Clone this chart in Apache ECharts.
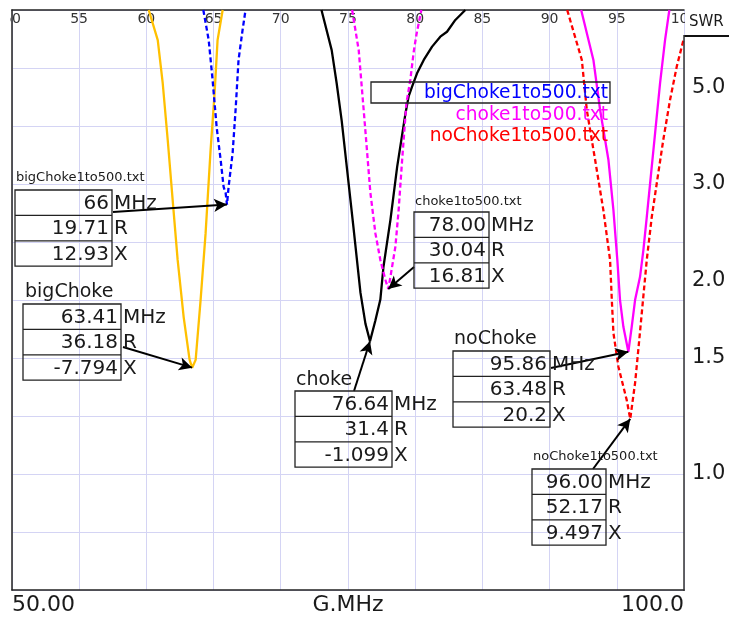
<!DOCTYPE html>
<html><head><meta charset="utf-8">
<script src="https://cdn.jsdelivr.net/npm/echarts@6/dist/echarts.min.js"></script>
<style>html,body{margin:0;padding:0;background:#fff}#c{width:729px;height:619px}</style>
</head><body><div id="c"></div>
<script>
// ---------- data ----------
const bottomLabelValues = [50, 75, 100];
const bottomLabels = ['50.00', 'G.MHz', '100.0'];
const swrTickValues = [5.0, 3.0, 2.0, 1.5, 1.0];
const swrTickLabels = ['5.0', '3.0', '2.0', '1.5', '1.0'];

const bigChokeMHz = [60.18, 60.85, 61.22, 61.59, 61.96, 62.33, 62.78, 63.22, 63.41, 63.67, 64.04, 64.41, 64.78, 65.08, 65.30, 65.68];
const bigChokeSWR = [9.0, 6.94, 5.13, 3.72, 2.79, 2.17, 1.74, 1.49, 1.449, 1.49, 1.86, 2.42, 3.53, 4.83, 6.94, 9.0];

const bigChoke500MHz = [64.24, 64.64, 64.93, 65.23, 65.53, 65.75, 65.90, 66.00, 66.12, 66.42, 66.64, 66.86, 67.16, 67.38];
const bigChoke500SWR = [9.0, 6.94, 5.24, 3.98, 3.36, 2.96, 2.88, 2.735, 2.96, 3.48, 4.37, 5.99, 7.53, 9.0];

const chokeMHz = [73.03, 73.79, 74.16, 74.54, 74.94, 75.41, 75.93, 76.30, 76.64, 77.04, 77.41, 77.64, 78.16, 78.66, 79.27, 79.52, 79.77, 80.14, 80.64, 81.26, 81.87, 82.37, 82.99, 83.73];
const chokeSWR = [9.0, 6.43, 5.13, 4.10, 3.20, 2.48, 1.91, 1.70, 1.594, 1.72, 1.86, 2.11, 2.56, 3.25, 4.27, 4.74, 5.02, 5.47, 5.99, 6.60, 7.13, 7.42, 8.21, 9.0];

const choke500MHz = [75.31, 75.80, 76.17, 76.37, 76.67, 77.04, 77.41, 77.79, 78.00, 78.16, 78.53, 78.77, 79.03, 79.35, 79.64, 79.89, 80.09, 80.46];
const choke500SWR = [9.0, 6.43, 4.37, 3.66, 2.88, 2.42, 2.17, 2.005, 1.937, 2.03, 2.29, 2.67, 3.36, 4.55, 5.24, 6.34, 7.23, 9.0];

const noChokeMHz = [92.35, 93.26, 93.76, 94.38, 94.75, 95.04, 95.24, 95.49, 95.86, 96.11, 96.36, 96.73, 96.98, 97.23, 97.60, 97.85, 98.22, 98.59, 98.91];
const noChokeSWR = [9.0, 5.99, 4.37, 3.36, 2.67, 2.17, 1.857, 1.68, 1.534, 1.68, 1.857, 2.03, 2.26, 2.59, 3.25, 3.85, 5.13, 6.94, 9.0];

const noChoke500MHz = [91.31, 92.40, 92.77, 93.39, 94.00, 94.50, 94.63, 94.75, 95.12, 95.74, 96.00, 96.36, 96.60, 96.86, 97.23, 97.60, 98.09, 98.46, 98.96, 99.46, 100.0];
const noChoke500SWR = [9.0, 5.99, 4.37, 3.36, 2.67, 2.17, 1.857, 1.642, 1.454, 1.292, 1.210, 1.372, 1.544, 1.769, 2.17, 2.59, 3.16, 3.72, 4.63, 5.72, 7.06];

const legendNames = ['bigChoke1to500.txt', 'choke1to500.txt', 'noChoke1to500.txt'];

const annotTitles = ['bigChoke1to500.txt', 'bigChoke', 'choke1to500.txt', 'choke', 'noChoke', 'noChoke1to500.txt'];
const annotMHz = ['66', '63.41', '78.00', '76.64', '95.86', '96.00'];
const annotR = ['19.71', '36.18', '30.04', '31.4', '63.48', '52.17'];
const annotX = ['12.93', '-7.794', '16.81', '-1.099', '20.2', '9.497'];
const markerMHz = [66.00, 63.41, 78.00, 76.64, 95.86, 96.00];
const markerSWR = [2.735, 1.449, 1.937, 1.594, 1.534, 1.210];
const unitLabels = ['MHz', 'R', 'X'];

// ---------- layout / style ----------
const FONT = 'DejaVu Sans';
const TXT = '#1a1a1a';
const toRho = s => (s - 1) / (s + 1);

const seriesDefs = [
  { name: 'bigChoke', mhz: bigChokeMHz, swr: bigChokeSWR, color: '#ffc000', dash: false },
  { name: 'bigChoke1to500.txt', mhz: bigChoke500MHz, swr: bigChoke500SWR, color: '#0000ff', dash: true },
  { name: 'choke', mhz: chokeMHz, swr: chokeSWR, color: '#000000', dash: false },
  { name: 'choke1to500.txt', mhz: choke500MHz, swr: choke500SWR, color: '#ff00ff', dash: true },
  { name: 'noChoke', mhz: noChokeMHz, swr: noChokeSWR, color: '#ff00ff', dash: false },
  { name: 'noChoke1to500.txt', mhz: noChoke500MHz, swr: noChoke500SWR, color: '#ff0000', dash: true }
];
const legendColors = ['#0000ff', '#ff00ff', '#ff0000'];

// annotation boxes (pixel layout) and which series they belong to
const annotLayout = [
  { s: 1, tx: 16, ty: 178, ts: 13, bx: 15, by: 190, bw: 97, ax: 113, ay: 212 },
  { s: 0, tx: 25, ty: 292, ts: 19, bx: 23, by: 304, bw: 98, ax: 123, ay: 347 },
  { s: 3, tx: 415, ty: 202, ts: 13, bx: 414, by: 212, bw: 75, ax: 414, ay: 267 },
  { s: 2, tx: 296, ty: 380, ts: 19, bx: 295, by: 391, bw: 97, ax: 354, ay: 391 },
  { s: 4, tx: 454, ty: 339, ts: 19, bx: 453, by: 351, bw: 97, ax: 551, ay: 368 },
  { s: 5, tx: 533, ty: 457, ts: 13, bx: 532, by: 469, bw: 74, ax: 593, ay: 469 }
];
const RH = 25.4;

const series = seriesDefs.map((d, si) => {
  const marks = annotLayout.map((a, i) => ({ a, i })).filter(o => o.a.s === si);
  const s = {
    name: d.name,
    type: 'line',
    xAxisIndex: 0,
    yAxisIndex: 0,
    data: d.mhz.map((m, i) => [m, toRho(d.swr[i])]),
    showSymbol: false,
    symbol: 'none',
    smooth: false,
    clip: true,
    lineStyle: { color: d.color, width: 2.3, type: d.dash ? [5, 3] : 'solid' },
    itemStyle: { color: d.color },
    emphasis: { disabled: true },
    z: 3
  };
  if (marks.length) {
    s.markLine = {
      silent: true,
      symbol: ['none', 'arrow'],
      symbolSize: [10, 13],
      label: { show: false },
      lineStyle: { color: '#000', width: 2, type: 'solid' },
      itemStyle: { color: '#000' },
      emphasis: { disabled: true },
      data: marks.map(o => [
        { x: o.a.ax, y: o.a.ay, lineStyle: { color: '#000', width: 2, type: 'solid' } },
        { coord: [markerMHz[o.i], toRho(markerSWR[o.i])] }
      ]),
      z: 6
    };
  }
  return s;
});

// graphic elements
const g = [];
annotLayout.forEach((a, i) => {
  g.push({ type: 'text', x: a.tx, y: a.ty, z: 50,
    style: { text: annotTitles[i], font: `${a.ts}px "${FONT}"`, fill: TXT, textAlign: 'left', textVerticalAlign: 'middle' } });
  g.push({ type: 'rect', z: 50, shape: { x: a.bx, y: a.by, width: a.bw, height: RH * 3 },
    style: { fill: 'rgba(255,255,255,0)', stroke: '#222', lineWidth: 1.3 } });
  [1, 2].forEach(k => g.push({ type: 'line', z: 50,
    shape: { x1: a.bx, y1: a.by + RH * k, x2: a.bx + a.bw, y2: a.by + RH * k },
    style: { stroke: '#222', lineWidth: 1.3 } }));
  [annotMHz[i], annotR[i], annotX[i]].forEach((v, k) => {
    g.push({ type: 'text', z: 51, x: a.bx + a.bw - 3, y: a.by + RH * k + RH / 2 + 1,
      style: { text: v, font: `20px "${FONT}"`, fill: TXT, textAlign: 'right', textVerticalAlign: 'middle' } });
    g.push({ type: 'text', z: 51, x: a.bx + a.bw + 2, y: a.by + RH * k + RH / 2 + 1,
      style: { text: unitLabels[k], font: `20px "${FONT}"`, fill: TXT, textAlign: 'left', textVerticalAlign: 'middle' } });
  });
});
// legend
g.push({ type: 'rect', z: 50, shape: { x: 371, y: 82, width: 239, height: 21 },
  style: { fill: 'rgba(255,255,255,0)', stroke: '#222', lineWidth: 1.3 } });
legendNames.forEach((n, i) => {
  g.push({ type: 'text', z: 51, x: 608, y: 93 + i * 21.7,
    style: { text: n, font: `18.6px "${FONT}"`, fill: legendColors[i], textAlign: 'right', textVerticalAlign: 'middle' } });
});
// clip the partial top tick labels outside the plot
g.push({ type: 'rect', z: 90, shape: { x: 0, y: 11, width: 10.2, height: 17 }, style: { fill: '#fff' } });
g.push({ type: 'rect', z: 90, shape: { x: 685, y: 11, width: 44, height: 24 }, style: { fill: '#fff' } });
g.push({ type: 'text', z: 95, x: 689, y: 22,
  style: { text: 'SWR', font: `15px "${FONT}"`, fill: TXT, textAlign: 'left', textVerticalAlign: 'middle' } });
g.push({ type: 'line', z: 95, shape: { x1: 684, y1: 36, x2: 729, y2: 36 }, style: { stroke: '#111', lineWidth: 2 } });
g.push({ type: 'line', z: 95, shape: { x1: 684, y1: 35, x2: 684, y2: 591 }, style: { stroke: '#333', lineWidth: 1.5 } });

const option = {
  animation: false,
  backgroundColor: '#fff',
  textStyle: { fontFamily: FONT },
  grid: { left: 11, right: 45, top: 10, bottom: 29, show: false },
  xAxis: [
    {
      type: 'value', position: 'top', min: 50, max: 100, interval: 5,
      axisLine: { show: true, onZero: false, lineStyle: { color: '#222', width: 1.5 } },
      axisTick: { show: false },
      axisLabel: { inside: true, margin: 2, fontSize: 14, color: '#333', fontFamily: FONT,
        showMinLabel: true, showMaxLabel: true, formatter: v => String(v) },
      splitLine: { show: true, lineStyle: { color: '#d4d4f4', width: 1 } }
    },
    {
      type: 'value', position: 'bottom', min: 50, max: 100,
      axisLine: { show: true, onZero: false, lineStyle: { color: '#222', width: 1.5 } },
      axisTick: { show: false },
      splitLine: { show: false },
      axisLabel: {
        customValues: bottomLabelValues,
        formatter: v => bottomLabels[bottomLabelValues.indexOf(v)] ?? '',
        margin: 4, fontSize: 22, color: TXT, fontFamily: FONT,
        alignMinLabel: 'left', alignMaxLabel: 'right'
      }
    }
  ],
  yAxis: [
    {
      type: 'value', position: 'right', min: -0.2, max: 0.8, interval: 0.1,
      axisLine: { show: false },
      axisTick: { show: false },
      splitLine: { show: true, lineStyle: { color: '#d4d4f4', width: 1 } },
      axisLabel: {
        customValues: swrTickValues.map(toRho),
        formatter: v => {
          let best = 0, bd = 1e9;
          swrTickValues.forEach((s, i) => { const d = Math.abs(toRho(s) - v); if (d < bd) { bd = d; best = i; } });
          return swrTickLabels[best];
        },
        margin: 8, fontSize: 21, color: TXT, fontFamily: FONT, align: 'left',
        padding: [0, 0, 6, 0]
      }
    },
    {
      type: 'value', position: 'left', min: -0.2, max: 0.8,
      axisLine: { show: true, onZero: false, lineStyle: { color: '#222', width: 1.5 } },
      axisTick: { show: false }, axisLabel: { show: false }, splitLine: { show: false }
    }
  ],
  series: series,
  graphic: { elements: g }
};
const chart = echarts.init(document.getElementById('c'));
chart.setOption(option);
</script>
</body></html>
